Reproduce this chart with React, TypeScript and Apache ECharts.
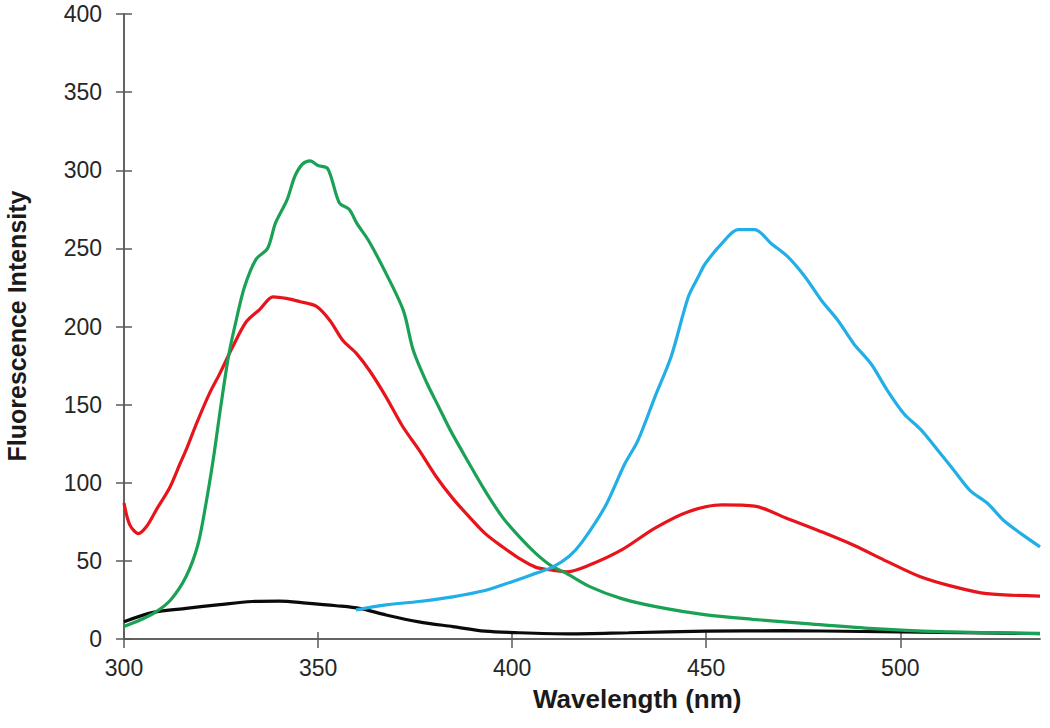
import React, { useEffect, useRef } from "react";
import * as echarts from "echarts";

const xTicks = [300, 350, 400, 450, 500];

const greenWl = [300, 304, 308, 312, 316, 319, 321, 323, 325, 327, 329, 331, 334, 337, 339, 342, 344, 346, 348, 350, 352.5, 355.5, 358, 360, 363, 367.5, 372, 374.5, 378, 381, 384, 389, 393, 397.5, 402, 406, 410, 414, 420, 428, 437, 450, 462, 475, 492, 510, 536];
const greenVal = [8, 12, 17, 25, 40, 60, 85, 115, 150, 182, 205, 225, 243, 250, 266, 281, 296, 304, 306, 303, 301, 279, 275, 266, 255, 234, 210, 185, 164, 149, 134, 112, 95, 78, 65, 55, 47, 42, 33.5, 26, 20.7, 15.4, 12.6, 10, 6.8, 4.7, 3.6];

const redWl = [300, 301.5, 303.7, 305.8, 308.4, 311.8, 314.4, 316, 318.7, 322, 324.7, 328, 331.5, 335, 338.4, 341.8, 345.2, 349.5, 353, 356.4, 359.8, 363.2, 367.5, 371.8, 376, 380.4, 384.7, 389, 393, 397.5, 401.8, 406, 410.4, 414, 419.6, 428.2, 436.8, 445.4, 454, 462.5, 471, 479.6, 488, 496.7, 505, 513.7, 522.3, 536];
const redVal = [87, 73, 67.5, 72, 83, 97, 112, 121, 138, 157, 170, 187, 203, 211, 219, 218, 216, 213, 204, 191, 183, 172, 155, 136, 121, 104, 90, 78, 67.6, 59, 51.6, 46, 44, 43, 47, 57, 71, 81.5, 85.8, 85, 77, 68.7, 60, 49.5, 40, 33.5, 29, 27.5];

const blueWl = [359.8, 367.5, 376, 384.7, 393, 400, 406, 410.4, 414.7, 418, 424, 429, 432.4, 436.8, 441, 445.4, 448, 449.7, 454, 458.2, 462.5, 466.8, 471, 475.4, 479.6, 483.9, 488, 492.5, 496.7, 501, 505.3, 509.6, 513.8, 518, 522.4, 526.6, 531, 536];
const blueVal = [18.6, 21.8, 24, 27, 31, 36.7, 42, 46, 53, 62, 85, 112, 127, 155, 181, 219, 232, 240, 253, 262, 262, 253, 244.7, 232, 217, 204, 189, 176, 159, 144, 134, 121, 108, 95, 87, 76, 67.6, 59];

const blackWl = [300, 307.5, 316, 324.7, 333, 340, 347, 354.7, 360.7, 367.5, 376, 384.7, 393, 401.8, 414.7, 430, 450, 470, 490, 510, 536];
const blackVal = [11, 17, 19.6, 22, 24, 24.3, 23, 21.3, 19.6, 15.4, 11, 7.9, 5, 4, 3.3, 4, 5, 5.3, 4.8, 4.2, 3.5];

const pairs = (xs: number[], ys: number[]) => xs.map((x, i) => [x, ys[i]]);

export default function App() {
  const ref = useRef<HTMLDivElement>(null);
  useEffect(() => {
    if (!ref.current) return;
    const chart = echarts.init(ref.current, null, { renderer: "svg" });
    const font = "'Liberation Sans', Arial, sans-serif";
    const axisLine = { show: true, lineStyle: { color: "#5a5a5a", width: 1.5 } };
    const baseX = {
      type: "value",
      min: 300,
      max: 536,
      interval: 50,
      gridIndex: 0,
      splitLine: { show: false },
      axisLine,
    };
    const baseY = {
      type: "value",
      min: 0,
      max: 400,
      interval: 50,
      gridIndex: 0,
      splitLine: { show: false },
      axisLine,
    };
    const line = (name: string, data: number[][], color: string) => ({
      name,
      type: "line",
      data,
      showSymbol: false,
      symbol: "none",
      smooth: 0.3,
      lineStyle: { color, width: 3.2 },
      itemStyle: { color },
      xAxisIndex: 0,
      yAxisIndex: 0,
    });
    chart.setOption({
      animation: false,
      backgroundColor: "#ffffff",
      grid: { left: 124, right: 10, top: 14, bottom: 89, containLabel: false },
      xAxis: [
        {
          ...baseX,
          axisTick: { show: true, inside: false, length: 9, lineStyle: { color: "#5a5a5a", width: 1.5 }, customValues: xTicks },
          axisLabel: { show: true, margin: 17, fontSize: 23, color: "#262626", fontFamily: font, customValues: xTicks },
        },
        {
          ...baseX,
          position: "bottom",
          axisTick: { show: true, inside: true, length: 7, lineStyle: { color: "#5a5a5a", width: 1.5 }, customValues: xTicks },
          axisLabel: { show: false },
        },
      ],
      yAxis: [
        {
          ...baseY,
          axisTick: { show: true, inside: false, length: 8, lineStyle: { color: "#5a5a5a", width: 1.5 } },
          axisLabel: { show: true, margin: 22, fontSize: 23, color: "#262626", fontFamily: font },
        },
        {
          ...baseY,
          position: "left",
          axisTick: { show: true, inside: true, length: 8, lineStyle: { color: "#5a5a5a", width: 1.5 } },
          axisLabel: { show: false },
        },
      ],
      graphic: [
        {
          type: "text",
          left: 533,
          top: 686,
          style: { text: "Wavelength (nm)", fontSize: 26, fontWeight: "bold", fill: "#1a1a1a", font: `bold 26px ${font}` },
        },
        {
          type: "text",
          x: 17,
          y: 326,
          rotation: Math.PI / 2,
          style: {
            text: "Fluorescence Intensity",
            fontSize: 25,
            fontWeight: "bold",
            fill: "#1a1a1a",
            font: `bold 25px ${font}`,
            align: "center",
            verticalAlign: "middle",
          },
        },
      ],
      series: [
        line("Black", pairs(blackWl, blackVal), "#0a0a0a"),
        line("Red", pairs(redWl, redVal), "#e8141c"),
        line("Green", pairs(greenWl, greenVal), "#1ba155"),
        line("Blue", pairs(blueWl, blueVal), "#22aee6"),
      ],
    });
    return () => chart.dispose();
  }, []);
  return (
    <div
      ref={ref}
      style={{ position: "fixed", left: 0, top: 0, width: 1050, height: 728, background: "#fff" }}
    />
  );
}
